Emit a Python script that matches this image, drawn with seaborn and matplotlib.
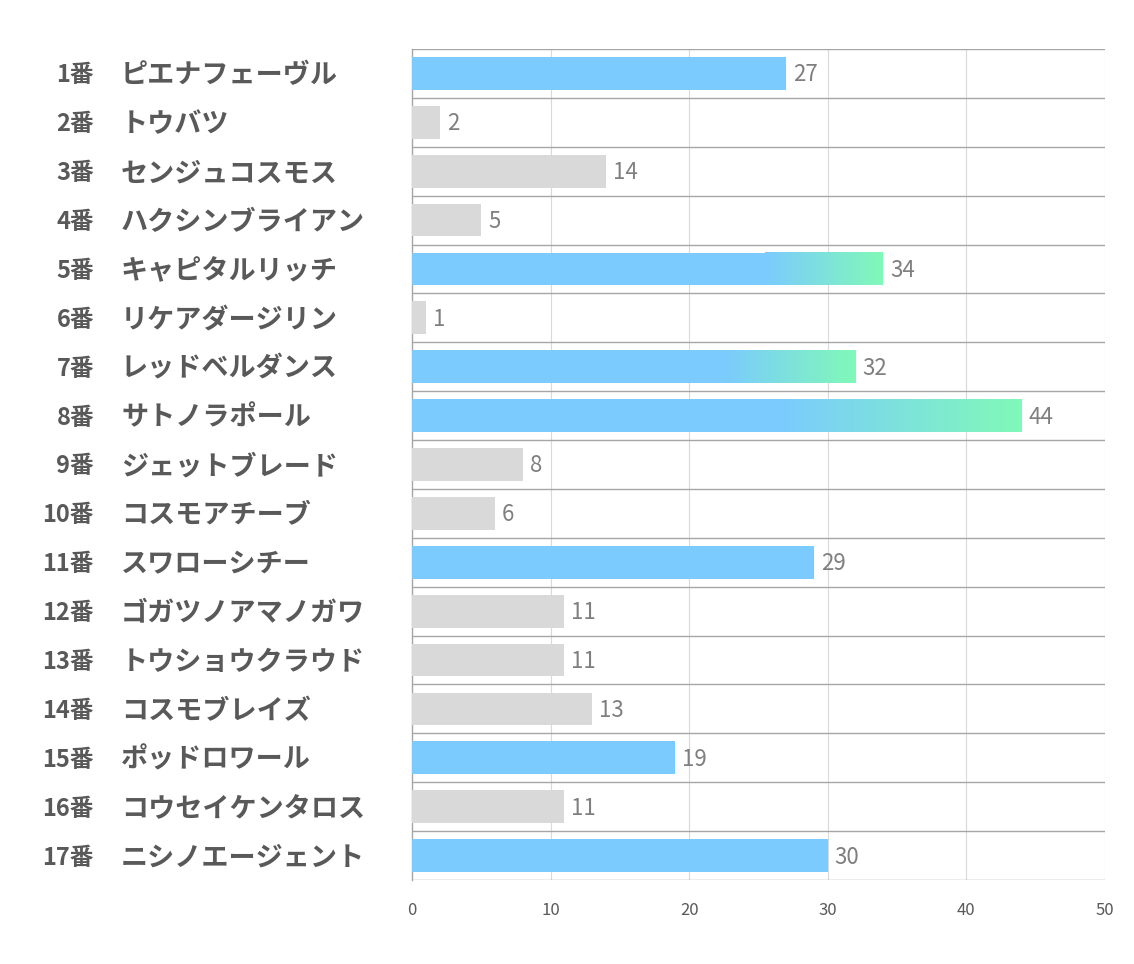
import numpy as np
import seaborn as sns
import matplotlib.pyplot as plt
from matplotlib.colors import LinearSegmentedColormap
from matplotlib.transforms import blended_transform_factory

# データ
numbers = [f"{i}番" for i in range(1, 18)]
names = ["ピエナフェーヴル", "トウバツ", "センジュコスモス", "ハクシンブライアン",
         "キャピタルリッチ", "リケアダージリン", "レッドベルダンス", "サトノラポール",
         "ジェットブレード", "コスモアチーブ", "スワローシチー", "ゴガツノアマノガワ",
         "トウショウクラウド", "コスモブレイズ", "ポッドロワール", "コウセイケンタロス",
         "ニシノエージェント"]
values = [27, 2, 14, 5, 34, 1, 32, 44, 8, 6, 29, 11, 11, 13, 19, 11, 30]
highlight = [True, False, False, False, True, False, True, True, False, False,
             True, False, False, False, True, False, True]
# グラデーション開始位置(値)
grad_start = {4: 25.5, 6: 22.5, 7: 26.5}

BLUE = "#7BCBFE"
GREEN = "#80F9B8"
GRAY = "#D9D9D9"

plt.rcParams['font.family'] = ['Noto Sans CJK JP', 'DejaVu Sans']
fig = plt.figure(figsize=(11.34, 9.64), dpi=100)
ax = fig.add_axes([412 / 1134, 1 - 880 / 964, 693 / 1134, 831 / 964])

colors = [BLUE if h else GRAY for h in highlight]
sns.barplot(x=values, y=list(range(17)), orient="h", palette=colors,
            hue=list(range(17)), legend=False, width=0.67, saturation=1,
            ax=ax, zorder=3)

cmap = LinearSegmentedColormap.from_list("bg", [BLUE, GREEN])
for i, g0 in grad_start.items():
    v = values[i]
    grad = np.linspace(0, 1, 256).reshape(1, -1)
    ax.imshow(grad, cmap=cmap, aspect="auto", extent=[g0, v, i + 0.335, i - 0.335],
              zorder=4, interpolation="bilinear")

ax.set_xlim(0, 50)
ax.set_ylim(16.5, -0.5)
ax.set_xticks([0, 10, 20, 30, 40, 50])
ax.set_yticks([])
ax.set_xlabel("")
ax.set_ylabel("")
ax.tick_params(axis="x", length=0, pad=16, labelsize=12, labelcolor="#595959")
ax.grid(False)
for x in [10, 20, 30, 40, 50]:
    ax.axvline(x, color="#D9D9D9", lw=0.8, zorder=1)
for k in range(18):
    ax.axhline(k - 0.5, color="#A6A6A6", lw=1.0, zorder=2)
for s in ["top", "right", "bottom"]:
    ax.spines[s].set_visible(False)
ax.spines["left"].set_color("#A6A6A6")
ax.spines["left"].set_linewidth(1.0)

for i, v in enumerate(values):
    ax.text(v + 0.5, i + 0.03, str(v), va="center", ha="left", fontsize=16,
            color="#7F7F7F", zorder=5)

trans = blended_transform_factory(fig.transFigure, ax.transData)
for i in range(17):
    ax.text(94 / 1134, i + 0.04, numbers[i], transform=trans, ha="right", va="center",
            fontsize=17, fontweight="bold", color="#595959")
    ax.text(121 / 1134, i + 0.04, names[i], transform=trans, ha="left", va="center",
            fontsize=19.5, fontweight="bold", color="#595959")

fig.savefig("out.png", dpi=100)
